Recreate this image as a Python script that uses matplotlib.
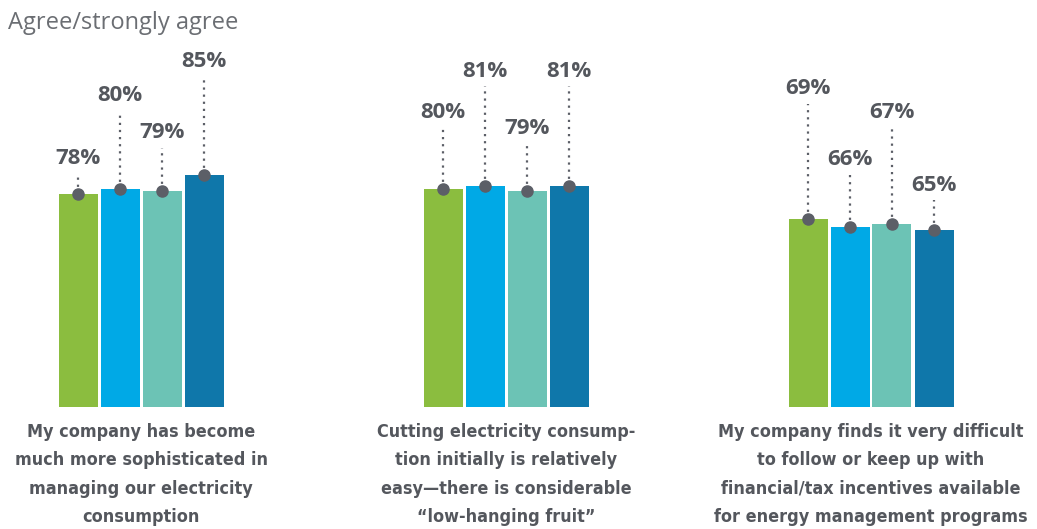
import numpy as np
import matplotlib.pyplot as plt

# survey results: share who agree / strongly agree, four series per statement
statements = [
    "My company has become\nmuch more sophisticated in\nmanaging our electricity\nconsumption",
    "Cutting electricity consump-\ntion initially is relatively\neasy\u2014there is considerable\n\u201clow-hanging fruit\u201d",
    "My company finds it very difficult\nto follow or keep up with\nfinancial/tax incentives available\nfor energy management programs",
]
series_1 = [78, 80, 69]
series_2 = [80, 81, 66]
series_3 = [79, 79, 67]
series_4 = [85, 81, 65]

colors = ["#8bbd3f", "#00a9e6", "#6cc3b5", "#0f77aa"]
dark = "#5c5f67"
text_col = "#54575d"

# height (in % units) where each value label sits
label_y = [
    [91, 108, 116.5],
    [114, 123, 90.5],
    [100.5, 102, 107.7],
    [126.5, 123, 81.3],
]

fig = plt.figure(figsize=(10.37, 5.29), dpi=100)
ax = fig.add_axes([0, 122 / 529, 1, 407 / 529])

px_per_unit = 365
bar_w = 39 / px_per_unit
step = 42 / px_per_unit
groups = np.arange(len(statements))

for j, vals in enumerate([series_1, series_2, series_3, series_4]):
    x = groups + (j - 1.5) * step
    ax.bar(x, vals, width=bar_w, color=colors[j], zorder=1)
    for xi, v, ly in zip(x, vals, label_y[j]):
        ax.plot([xi, xi], [v, ly - 5.5], color=dark, linestyle=(0, (1, 2.2)),
                linewidth=1.6, zorder=2)
        ax.plot(xi, v, "o", color=dark, markersize=8, zorder=3)
        ax.text(xi, ly, f"{v}%", ha="center", va="center", fontsize=16,
                fontweight="bold", color=text_col, family="Open Sans")

for g, s in zip(groups, statements):
    ax.text(g, -0.039, s, transform=ax.get_xaxis_transform(), ha="center",
            va="top", fontsize=12.9, fontweight="bold", fontstretch="condensed",
            color=text_col, family=["Liberation Sans Narrow", "DejaVu Sans"],
            linespacing=1.74)

xmin = -141 / px_per_unit
ax.set_xlim(xmin, xmin + 1037 / px_per_unit)
ax.set_ylim(0, 407 / 2.73)
ax.axis("off")

fig.text(8 / 1037, 1 - 23 / 529, "Agree/strongly agree", ha="left", va="center",
         fontsize=17, color="#6b6e73", family="Open Sans")

fig.savefig("out.png", dpi=100)
